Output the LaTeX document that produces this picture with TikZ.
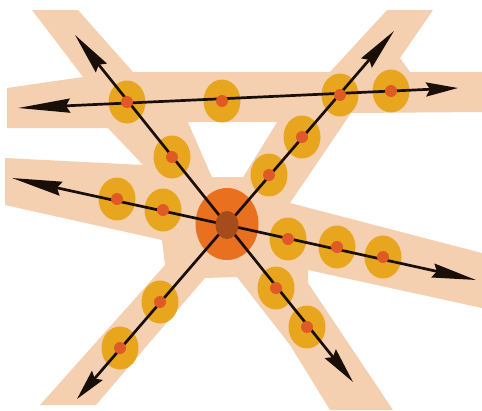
\documentclass[tikz,border=0pt]{standalone}
\usetikzlibrary{shapes.geometric,arrows.meta}
\definecolor{peach}{HTML}{F4D0B1}
\definecolor{amber}{HTML}{E8A61E}
\definecolor{dotred}{HTML}{E05A26}
\definecolor{hub}{HTML}{E8701F}
\definecolor{hubcore}{HTML}{A64B1C}
\definecolor{ink}{HTML}{1A0E08}
\tikzset{
  halo/.style={ellipse,fill=amber,draw=none,minimum width=37pt,minimum height=43pt,inner sep=0pt},
  dotnode/.style={circle,fill=dotred,draw=none,minimum size=12pt,inner sep=0pt},
  shaft/.style={draw=ink,line width=2.7pt},
  arrowto/.style={shaft,-{Stealth[length=#1,width=14pt,inset=4pt]}},
}
\begin{document}
\begin{tikzpicture}[x=1pt,y=-1pt]
\useasboundingbox (0,0) rectangle (482,410);
% background bands
\fill[peach] (32,10) -- (78,10) -- (133,72) -- (330,72) -- (387,10) -- (433,10)
  -- (400,58) -- (410,72) -- (482,72) -- (482,112) -- (351,113) -- (290,203)
  -- (482,253) -- (482,308) -- (308,270) -- (308,283) -- (393,410) -- (330,410)
  -- (290,345) -- (237,277) -- (205,278) -- (96,405) -- (40,405) -- (165,265)
  -- (162,240) -- (5,205) -- (5,158) -- (143,165) -- (108,128) -- (7,128)
  -- (7,88) -- (83,77) -- cycle;
\fill[white] (188,122) -- (277,122) -- (243,177) -- (212,177) -- cycle;
% halos
\node[halo] (h1) at (127,102) {};
\node[halo] (h2) at (222,101) {};
\node[halo] (h3) at (340,95) {};
\node[halo] (h4) at (391,91) {};
\node[halo] (h5) at (172,157) {};
\node[halo] (h6) at (302,137) {};
\node[halo] (h7) at (269,175) {};
\node[halo] (h8) at (117,199) {};
\node[halo] (h9) at (163,210) {};
\node[halo] (h10) at (288,239) {};
\node[halo] (h11) at (337,247) {};
\node[halo] (h12) at (383,257) {};
\node[halo] (h13) at (276,288) {};
\node[halo] (h14) at (307,327) {};
\node[halo] (h15) at (160,302) {};
\node[halo] (h16) at (120,348) {};
\node[ellipse,fill=hub,minimum width=63pt,minimum height=72pt,inner sep=0pt] (hub) at (227,224) {};
% arrows
\coordinate (c) at (227,225);
\coordinate (tL) at (18,108);
\coordinate (tR) at (458,88);
\coordinate (aTL) at (75,35);
\coordinate (aBR) at (353,382);
\coordinate (aTR) at (394,31);
\coordinate (aBL) at (77,399);
\coordinate (aL) at (12,178);
\coordinate (aR) at (476,280);
\draw[shaft,{Stealth[length=52pt,width=14pt,inset=4pt]}-{Stealth[length=32pt,width=14pt,inset=4pt]}] (tL) -- (tR);
\draw[arrowto=42pt] (c) -- (aTL);
\draw[arrowto=36pt] (c) -- (aBR);
\draw[arrowto=42pt] (c) -- (aTR);
\draw[arrowto=31pt] (c) -- (aBL);
\draw[arrowto=50pt] (c) -- (aL);
\draw[arrowto=44pt] (c) -- (aR);
\node[ellipse,fill=hubcore,minimum width=23pt,minimum height=28pt,inner sep=0pt] (core) at (c) {};
% dots
\foreach \n in {h1,h2,h3,h4,h5,h6,h7,h8,h9,h10,h11,h12,h13,h14,h15,h16}
  \node[dotnode] (d\n) at (\n) {};
\end{tikzpicture}
\end{document}
